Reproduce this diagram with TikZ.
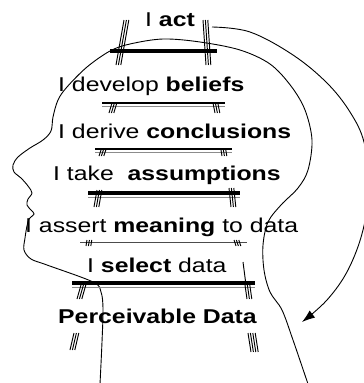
\documentclass[tikz,border=0pt]{standalone}
\usepackage{fontspec}
\setmainfont{Liberation Sans}[FakeStretch=1.24]
\usetikzlibrary{arrows.meta}
\begin{document}
\begin{tikzpicture}[x=1pt,y=-1pt,
  label/.style={anchor=base west,inner sep=0pt,font=\fontsize{20}{24}\selectfont},
  outline/.style={line width=0.9pt,black},
  rungmain/.style={black},
  rungshadow/.style={line width=1pt,black!45},
  railline/.style={line width=0.95pt,black}]
\useasboundingbox (0,0) rectangle (364,383);

% rail hatch marks: start, end, number of strokes
\newcommand{\railmark}[3]{%
  \foreach \k in {1,...,#3}{\draw[railline,xshift=\k*2.4pt-2.4pt] (#1) -- (#2);}}

% head outline: neck, face profile, crown, back of the head
\draw[outline] plot[smooth,tension=0.55] coordinates {
  (100,384) (102,342) (103,309) (101,292) (93,282) (47,265) (31,259)
  (24,250) (25,238) (27,226) (29,219) (34,214) (31,210) (27,205)
  (28,199) (32,193) (28,186) (21,178) (14,172) (13,165) (18,157)
  (30,148) (43,140) (51,131) (53,117) (58,100) (67,87) (87,67)
  (110,51) (130,44) (163,39) (200,42) (240,50) (270,64) (291,86)
  (305,110) (312,140) (308,170) (298,188) (281,205) (268,222)
  (263,245) (264,270) (270,292) (282,310) (293,340) (308,384)};

% ladder rungs
\draw[rungmain,line width=4pt] (110,51) -- (217,51);
\draw[rungshadow] (102,106) -- (225,106);
\draw[rungmain,line width=2.2pt] (102,103) -- (225,103);
\draw[rungshadow] (95,152) -- (232,152);
\draw[rungmain,line width=1.5pt] (95,149) -- (232,149);
\draw[rungshadow] (88,197.5) -- (240,197.5);
\draw[rungmain,line width=3.5pt] (88,193) -- (240,193);
\draw[black!70,line width=1pt] (80,242) -- (247,242);
\draw[rungshadow] (72,287) -- (255,287);
\draw[rungmain,line width=4pt] (72,283) -- (255,283);

% ladder rails
\railmark{124,20}{116,65}{3}
\railmark{203,20}{206,65}{3}
\railmark{112,103}{109,113}{3}
\railmark{213,103}{215,113}{3}
\railmark{101,150}{99,156}{3}
\railmark{221,150}{222,156}{3}
\railmark{97,190}{94,207}{3}
\railmark{229,188}{231,207}{3}
\railmark{87,240}{86,246}{3}
\railmark{234,240}{236,246}{3}
\railmark{81,285}{77,299}{3}
\railmark{245,285}{247,299}{3}
\draw[railline] (243,262) -- (246,285);
\railmark{74,333}{70,350}{3}
\railmark{248,333}{251,352}{4}

% rungs of the ladder of inference
\node[label] (act) at (145,26) {I \textbf{act}};
\node[label] (beliefs) at (58,91) {I develop \textbf{beliefs}};
\node[label] (conclusions) at (58,138) {I derive \textbf{conclusions}};
\node[label] (assumptions) at (53,180) {I take\ \ \textbf{assumptions}};
\node[label] (meaning) at (25,232) {I assert \textbf{meaning} to data};
\node[label] (select) at (87,272) {I \textbf{select} data};
\node[label] (perceivable) at (58,323) {\textbf{Perceivable Data}};

% reflexive loop back to the data
\coordinate (loopstart) at (212,27);
\coordinate (loopend) at (302,322);
\draw[outline,-{Latex[length=13pt,width=9pt]}] plot[smooth,tension=0.6] coordinates {
  (loopstart) (250,32) (293,55) (327,83) (350,112) (364,142)
  (369,185) (363,230) (348,270) (327,300) (loopend)};
\end{tikzpicture}
\end{document}
